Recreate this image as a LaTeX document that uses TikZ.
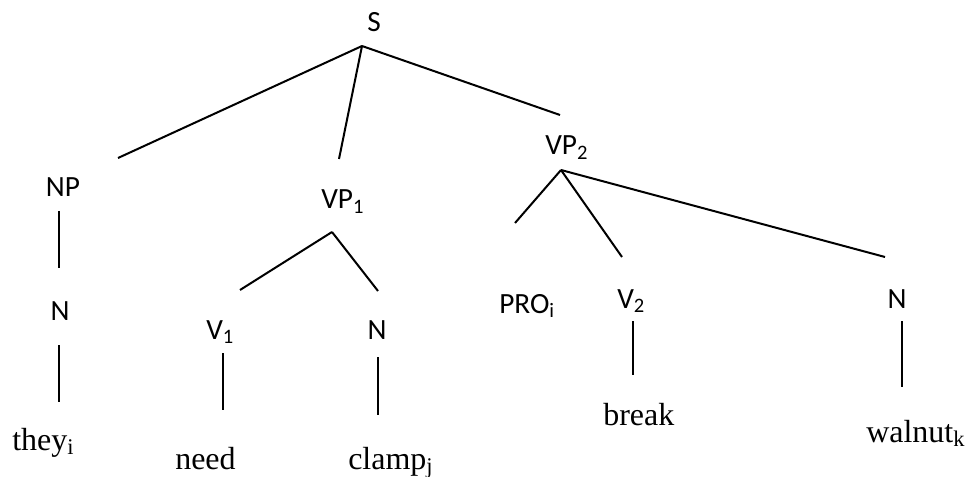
\documentclass[tikz,border=0pt]{standalone}
\usepackage{fontspec}
\setmainfont{Liberation Serif}
\newfontfamily\labelfont{Carlito}
\begin{document}
\begin{tikzpicture}[x=0.75pt,y=-0.75pt,
  cat/.style={inner sep=0pt, font=\labelfont\fontsize{22}{26}\selectfont},
  word/.style={inner sep=0pt, font=\fontsize{24}{28}\selectfont},
  edge/.style={line width=1.5pt}]
\useasboundingbox (0,0) rectangle (966,477);

% category labels
\node[cat, anchor=base] (S) at (374,32) {S};
\node[cat, anchor=base] (NP) at (63,197) {NP};
\node[cat, anchor=base west] (VP1) at (321,209) {VP\textsubscript{1}};
\node[cat, anchor=base west] (VP2) at (545,155) {VP\textsubscript{2}};
\node[cat, anchor=base] (Nthey) at (60,320) {N};
\node[cat, anchor=base west] (V1) at (206,339) {V\textsubscript{1}};
\node[cat, anchor=base] (Nclamp) at (377,339) {N};
\node[cat, anchor=base west] (PRO) at (499,313) {PRO\textsubscript{i}};
\node[cat, anchor=base west] (V2) at (617,308) {V\textsubscript{2}};
\node[cat, anchor=base] (Nwalnut) at (897,308) {N};

% words
\node[word, anchor=base west] (they) at (12,450) {they\textsubscript{i}};
\node[word, anchor=base west] (need) at (175,469) {need};
\node[word, anchor=base west] (clamp) at (348,469) {clamp\textsubscript{j}};
\node[word, anchor=base west] (break) at (603,425) {break};
\node[word, anchor=base west] (walnut) at (866,442) {walnut\textsubscript{k}};

% branch end points
\coordinate (S-b) at (362,46);
\coordinate (NP-t) at (118,158);
\coordinate (VP1-t) at (339,159);
\coordinate (VP2-t) at (560,115);
\coordinate (NP-b) at (59,211);
\coordinate (Nthey-t) at (59,268);
\coordinate (Nthey-b) at (59,345);
\coordinate (they-t) at (59,402);
\coordinate (VP1-b) at (332,232);
\coordinate (V1-t) at (240,290);
\coordinate (Nclamp-t) at (378,291);
\coordinate (V1-b) at (223,353);
\coordinate (need-t) at (223,410);
\coordinate (Nclamp-b) at (378,357);
\coordinate (clamp-t) at (378,415);
\coordinate (VP2-b) at (561,170);
\coordinate (PRO-t) at (515,223);
\coordinate (V2-t) at (622,257);
\coordinate (Nwalnut-t) at (885,257);
\coordinate (V2-b) at (633,321);
\coordinate (break-t) at (633,375);
\coordinate (Nwalnut-b) at (902,321);
\coordinate (walnut-t) at (902,387);

% branches
\draw[edge] (S-b) -- (NP-t);
\draw[edge] (S-b) -- (VP1-t);
\draw[edge] (S-b) -- (VP2-t);
\draw[edge] (NP-b) -- (Nthey-t);
\draw[edge] (Nthey-b) -- (they-t);
\draw[edge] (VP1-b) -- (V1-t);
\draw[edge] (VP1-b) -- (Nclamp-t);
\draw[edge] (V1-b) -- (need-t);
\draw[edge] (Nclamp-b) -- (clamp-t);
\draw[edge] (VP2-b) -- (PRO-t);
\draw[edge] (VP2-b) -- (V2-t);
\draw[edge] (VP2-b) -- (Nwalnut-t);
\draw[edge] (V2-b) -- (break-t);
\draw[edge] (Nwalnut-b) -- (walnut-t);
\end{tikzpicture}
\end{document}
